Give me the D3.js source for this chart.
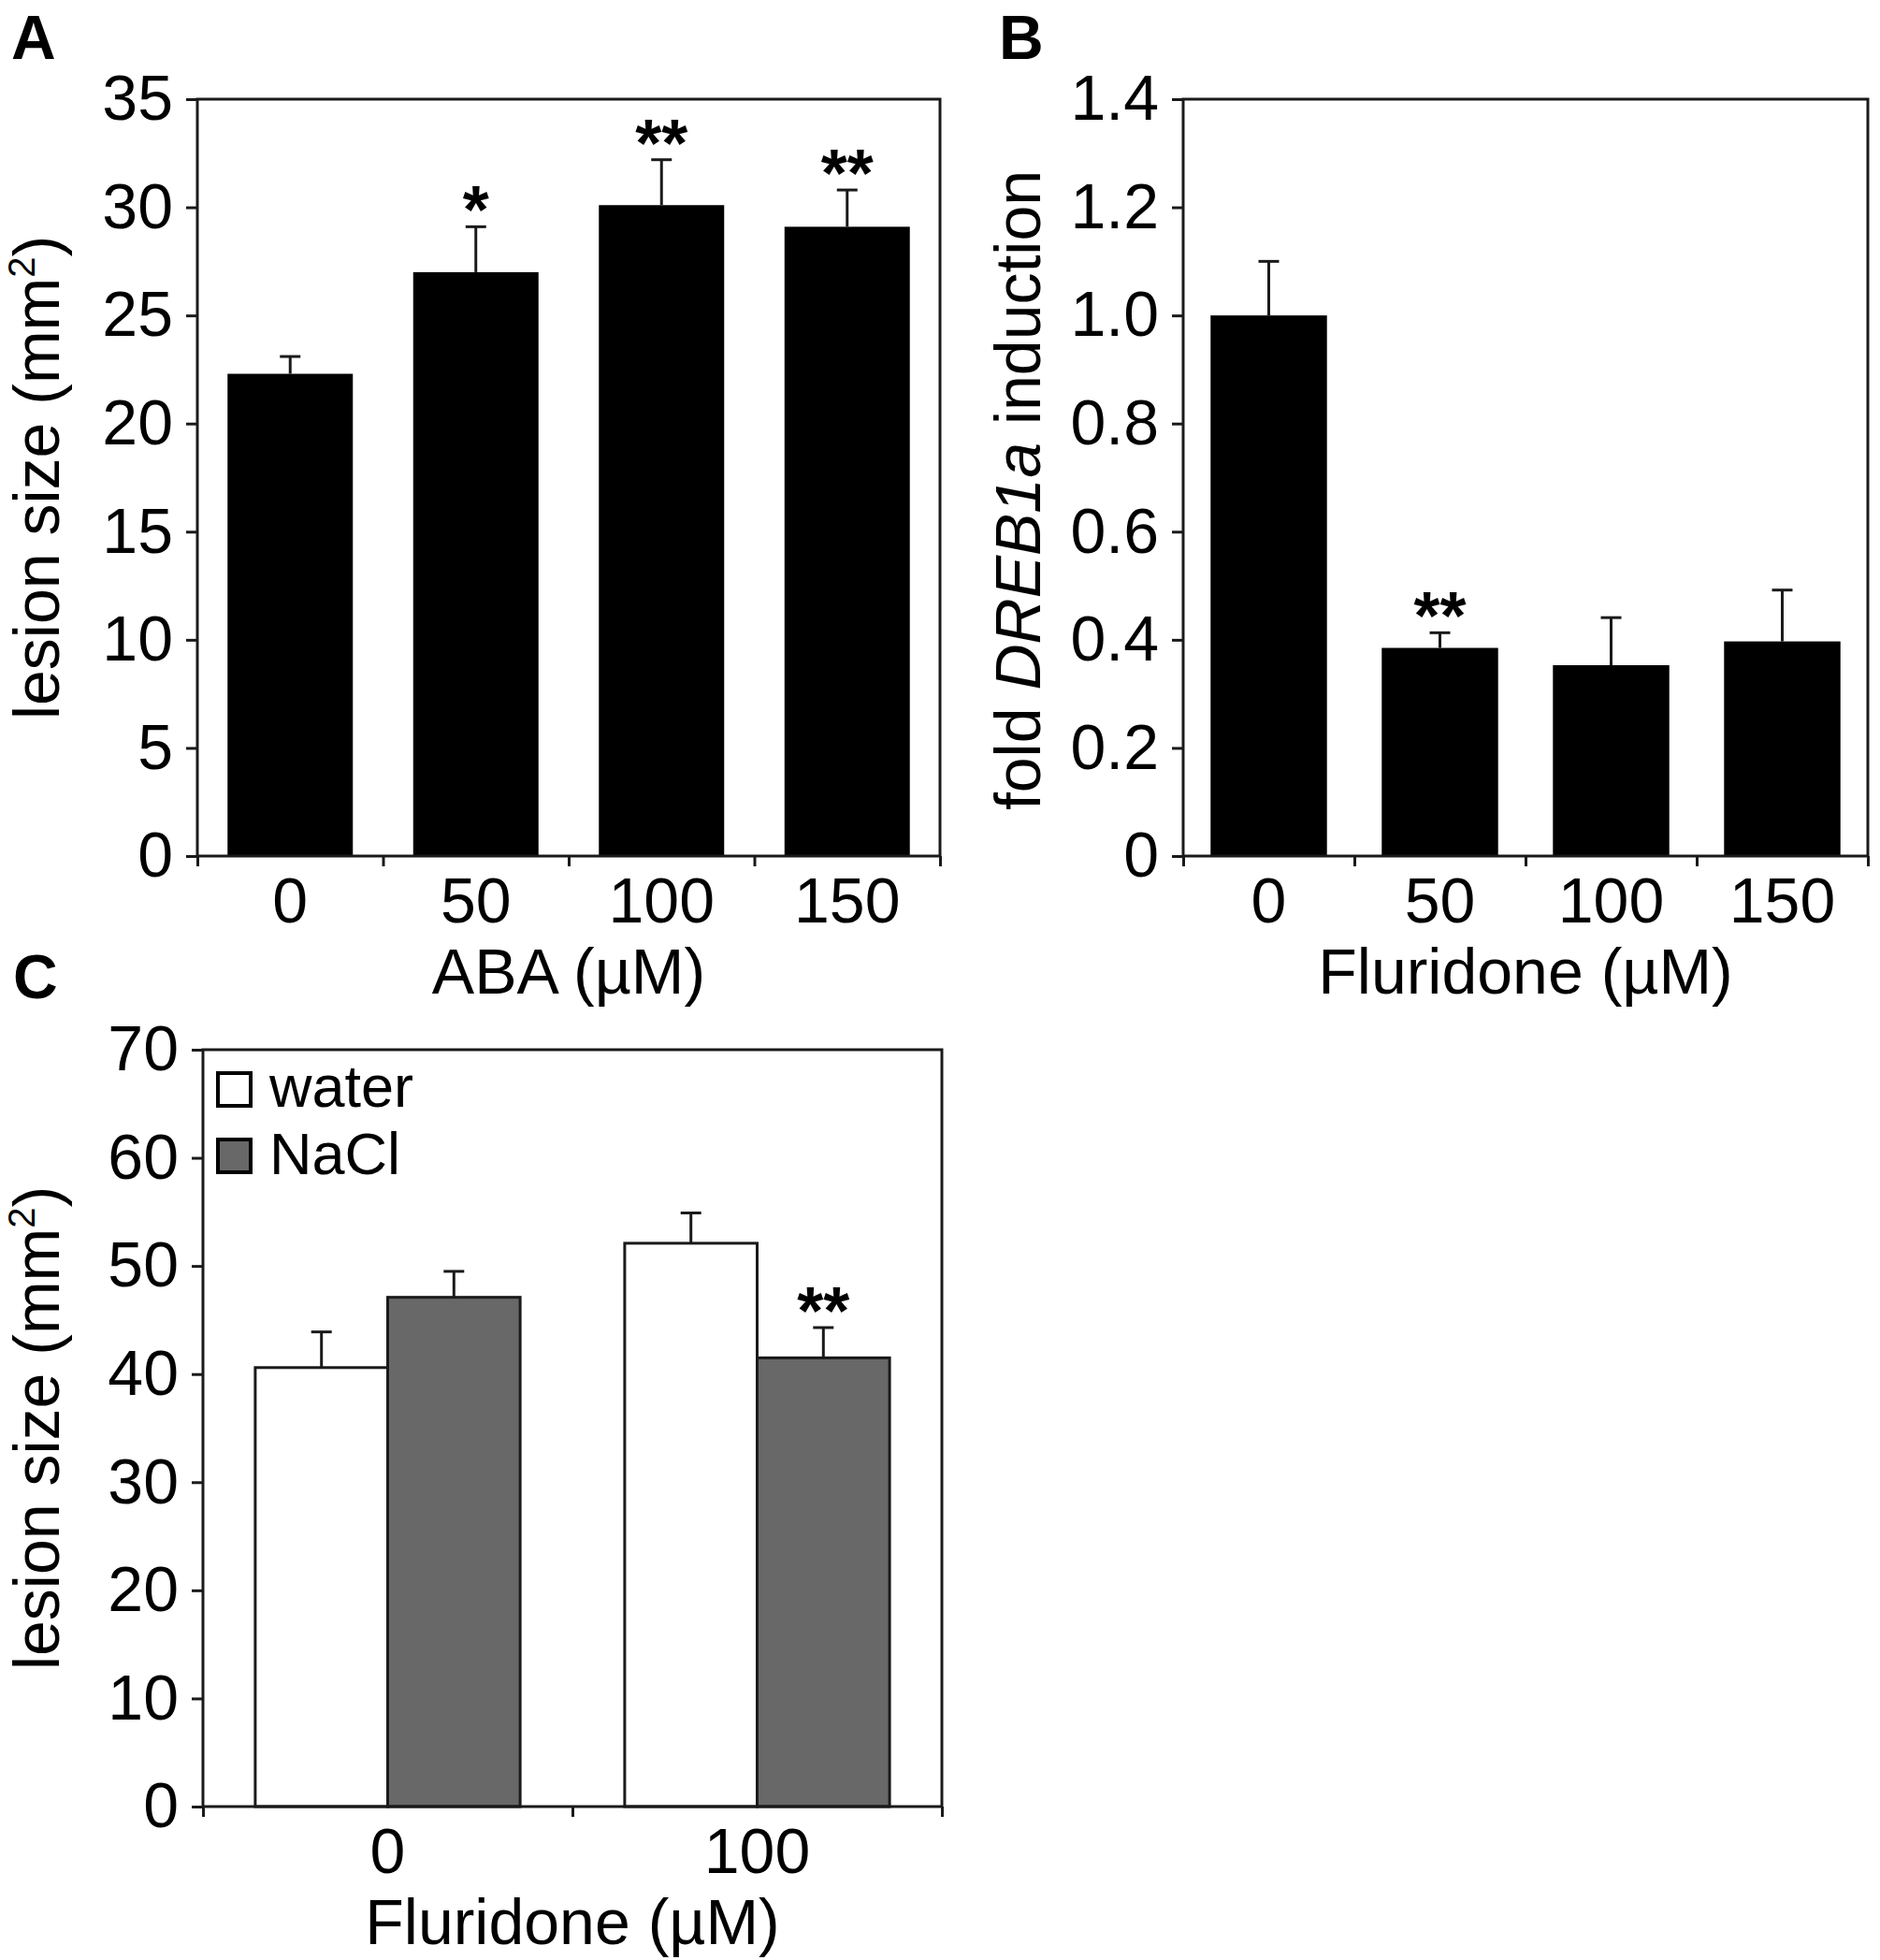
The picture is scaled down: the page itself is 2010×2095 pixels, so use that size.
<!DOCTYPE html>
<html>
<head>
<meta charset="utf-8">
<script src="https://cdn.jsdelivr.net/npm/d3@7"></script>
<style>
  body { margin: 0; background: #fff; }
  text { fill: #000; }
</style>
</head>
<body>
<div id="chart"></div>
<script>
// panel A: lesion size vs ABA
const abaDoses = ['0', '50', '100', '150'];
const abaLesion = [22.3, 27.0, 30.1, 29.1];
const abaLesionErr = [0.8, 2.1, 2.1, 1.7];
const abaStars = ['', '*', '**', '**'];
const abaTicks = [0, 5, 10, 15, 20, 25, 30, 35];

// panel B: DREB1a induction vs fluridone
const fluDoses = ['0', '50', '100', '150'];
const dreb1a = [1.0, 0.385, 0.353, 0.397];
const dreb1aErr = [0.1, 0.028, 0.088, 0.095];
const dreb1aStars = ['', '**', '', ''];
const dreb1aTicks = [0, 0.2, 0.4, 0.6, 0.8, 1.0, 1.2, 1.4];

// panel C: lesion size, water vs NaCl
const saltDoses = ['0', '100'];
const saltSeries = ['water', 'NaCl'];
const waterLesion = [40.6, 52.1];
const waterLesionErr = [3.3, 2.8];
const naclLesion = [47.1, 41.5];
const naclLesionErr = [2.4, 2.8];
const naclStars = ['', '**'];
const saltTicks = [0, 10, 20, 30, 40, 50, 60, 70];

const font = "'Liberation Sans', Arial, Helvetica, sans-serif";
const fs = 68;
const ink = '#1a1a1a';
const grey = '#686868';

const svg = d3
  .select('#chart')
  .append('svg')
  .attr('width', 2010)
  .attr('height', 2095)
  .style('font-family', font);

function drawFrame(box, y, ticks, fmt, cats, xBand) {
  const g = svg.append('g');

  const yAxis = g
    .append('g')
    .attr('transform', `translate(${box.left},0)`)
    .call(d3.axisLeft(y).tickValues(ticks).tickFormat(fmt).tickSize(12).tickPadding(14).tickSizeOuter(0));
  yAxis.select('.domain').remove();

  const xEdge = d3.scaleLinear().domain([0, cats.length]).range([box.left, box.right]);
  const xTicks = g
    .append('g')
    .attr('transform', `translate(0,${box.bottom})`)
    .call(d3.axisBottom(xEdge).tickValues(d3.range(cats.length + 1)).tickFormat('').tickSize(11).tickSizeOuter(0));
  xTicks.select('.domain').remove();

  const xLabels = g
    .append('g')
    .attr('transform', `translate(0,${box.bottom})`)
    .call(d3.axisBottom(xBand).tickSize(0).tickPadding(23));
  xLabels.select('.domain').remove();

  g.append('rect')
    .attr('x', box.left)
    .attr('y', box.top)
    .attr('width', box.right - box.left)
    .attr('height', box.bottom - box.top)
    .attr('fill', 'none')
    .attr('stroke', ink)
    .attr('stroke-width', 3);

  g.selectAll('.tick line').attr('stroke', ink).attr('stroke-width', 3);
  g.selectAll('.tick text').attr('font-family', font).attr('font-size', fs).attr('fill', '#000');
  g.selectAll('g').attr('font-family', font).attr('font-size', fs);
}

function drawErrors(g, data, x, y, w) {
  g.selectAll('.err-stem')
    .data(data)
    .enter()
    .append('line')
    .attr('x1', (d) => x(d) + w / 2)
    .attr('x2', (d) => x(d) + w / 2)
    .attr('y1', (d) => y(d.v))
    .attr('y2', (d) => y(d.v + d.e))
    .attr('stroke', ink)
    .attr('stroke-width', 3);
  g.selectAll('.err-cap')
    .data(data)
    .enter()
    .append('line')
    .attr('x1', (d) => x(d) + w / 2 - 11)
    .attr('x2', (d) => x(d) + w / 2 + 11)
    .attr('y1', (d) => y(d.v + d.e))
    .attr('y2', (d) => y(d.v + d.e))
    .attr('stroke', ink)
    .attr('stroke-width', 3);
  g.selectAll('.star')
    .data(data.filter((d) => d.s))
    .enter()
    .append('text')
    .text((d) => d.s)
    .attr('x', (d) => x(d) + w / 2)
    .attr('y', (d) => y(d.v + d.e) + 7)
    .attr('text-anchor', 'middle')
    .style('font-family', font)
    .style('font-size', '72px')
    .style('font-weight', 700);
}

function yTitle(parts, cx, cy) {
  const t = svg
    .append('text')
    .attr('transform', `translate(${cx},${cy}) rotate(-90)`)
    .attr('text-anchor', 'middle')
    .style('font-family', font)
    .style('font-size', fs + 'px');
  parts.forEach((p) => {
    const sp = t.append('tspan').text(p.t);
    if (p.italic) sp.style('font-style', 'italic');
    if (p.sup) sp.style('font-size', '40px').attr('dy', -26);
    if (p.down) sp.attr('dy', 26);
  });
}

function xTitle(text, cx, y) {
  svg
    .append('text')
    .text(text)
    .attr('x', cx)
    .attr('y', y)
    .attr('text-anchor', 'middle')
    .style('font-family', font)
    .style('font-size', fs + 'px');
}

function panelLetter(text, x, y) {
  svg
    .append('text')
    .text(text)
    .attr('x', x)
    .attr('y', y)
    .style('font-family', font)
    .style('font-size', '66px')
    .style('font-weight', 700);
}

// ---- A ----
{
  const box = { left: 211, right: 1005, top: 106, bottom: 915 };
  const x = d3.scaleBand().domain(abaDoses).range([box.left, box.right]).paddingInner(0.325).paddingOuter(0.1625);
  const y = d3.scaleLinear().domain([0, 35]).range([box.bottom, box.top]);
  const data = abaDoses.map((c, i) => ({ c, v: abaLesion[i], e: abaLesionErr[i], s: abaStars[i] }));
  const g = svg.append('g');
  g.selectAll('rect')
    .data(data)
    .enter()
    .append('rect')
    .attr('x', (d) => x(d.c))
    .attr('y', (d) => y(d.v))
    .attr('width', x.bandwidth())
    .attr('height', (d) => y(0) - y(d.v))
    .attr('fill', '#000');
  drawErrors(g, data, (d) => x(d.c), y, x.bandwidth());
  drawFrame(box, y, abaTicks, d3.format('d'), abaDoses, x);
  yTitle([{ t: 'lesion size (mm' }, { t: '2', sup: true }, { t: ')', down: true }], 63, (box.top + box.bottom) / 2);
  xTitle('ABA (µM)', (box.left + box.right) / 2, box.bottom + 147);
  panelLetter('A', 12, 63);
}

// ---- B ----
{
  const box = { left: 1265, right: 1997, top: 106, bottom: 915 };
  const x = d3.scaleBand().domain(fluDoses).range([box.left, box.right]).paddingInner(0.32).paddingOuter(0.16);
  const y = d3.scaleLinear().domain([0, 1.4]).range([box.bottom, box.top]);
  const data = fluDoses.map((c, i) => ({ c, v: dreb1a[i], e: dreb1aErr[i], s: dreb1aStars[i] }));
  const g = svg.append('g');
  g.selectAll('rect')
    .data(data)
    .enter()
    .append('rect')
    .attr('x', (d) => x(d.c))
    .attr('y', (d) => y(d.v))
    .attr('width', x.bandwidth())
    .attr('height', (d) => y(0) - y(d.v))
    .attr('fill', '#000');
  drawErrors(g, data, (d) => x(d.c), y, x.bandwidth());
  drawFrame(box, y, dreb1aTicks, (d) => (d === 0 ? '0' : d3.format('.1f')(d)), fluDoses, x);
  yTitle([{ t: 'fold ' }, { t: 'DREB1a', italic: true }, { t: ' induction' }], 1112, 524);
  xTitle('Fluridone (µM)', (box.left + box.right) / 2, box.bottom + 147);
  panelLetter('B', 1068, 63);
}

// ---- C ----
{
  const box = { left: 217, right: 1007, top: 1122, bottom: 1931 };
  const x0 = d3.scaleBand().domain(saltDoses).range([box.left, box.right]).paddingInner(0.283).paddingOuter(0.1415);
  const x1 = d3.scaleBand().domain(saltSeries).range([0, x0.bandwidth()]);
  const y = d3.scaleLinear().domain([0, 70]).range([box.bottom, box.top]);
  const fills = { water: '#fff', NaCl: grey };
  const data = [];
  saltDoses.forEach((c, i) => {
    data.push({ c, k: 'water', v: waterLesion[i], e: waterLesionErr[i], s: '' });
    data.push({ c, k: 'NaCl', v: naclLesion[i], e: naclLesionErr[i], s: naclStars[i] });
  });
  const g = svg.append('g');
  g.selectAll('rect')
    .data(data)
    .enter()
    .append('rect')
    .attr('x', (d) => x0(d.c) + x1(d.k))
    .attr('y', (d) => y(d.v))
    .attr('width', x1.bandwidth())
    .attr('height', (d) => y(0) - y(d.v))
    .attr('fill', (d) => fills[d.k])
    .attr('stroke', ink)
    .attr('stroke-width', 3);
  drawErrors(g, data, (d) => x0(d.c) + x1(d.k), y, x1.bandwidth());
  drawFrame(box, y, saltTicks, d3.format('d'), saltDoses, x0);

  const legend = svg.append('g');
  saltSeries.forEach((k, i) => {
    legend
      .append('rect')
      .attr('x', 233)
      .attr('y', 1147 + i * 71)
      .attr('width', 35)
      .attr('height', 35)
      .attr('fill', fills[k])
      .attr('stroke', '#000')
      .attr('stroke-width', 4);
    legend
      .append('text')
      .text(k)
      .attr('x', 288)
      .attr('y', 1183 + i * 72)
      .style('font-family', font)
      .style('font-size', '63px');
  });

  yTitle([{ t: 'lesion size (mm' }, { t: '2', sup: true }, { t: ')', down: true }], 63, (box.top + box.bottom) / 2);
  xTitle('Fluridone (µM)', (box.left + box.right) / 2, box.bottom + 147);
  panelLetter('C', 14, 1067);
}
</script>
</body>
</html>
